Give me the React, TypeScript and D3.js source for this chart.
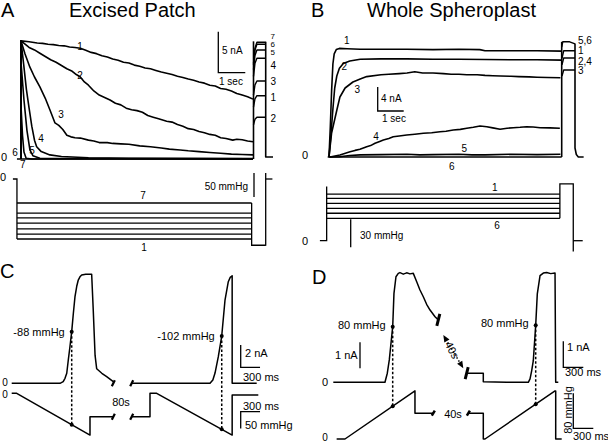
import React from 'react';
import * as d3 from 'd3';

type Pt = [number, number];

// ---------------- Panel A: excised patch (time s, current nA) ----------------
const aTrace1: Pt[] = [[0,0],[0,14.4],[0.3,14.3],[0.6,14.15],[0.8,14.1],[1.0,14.0],[1.2,13.95],[1.4,13.85],[1.6,13.8],[1.8,13.65],[2.0,13.6],[2.2,13.5],[2.4,13.25],[2.6,13.0],[2.8,12.85],[3.0,12.6],[3.2,12.45],[3.4,12.2],[3.6,12.05],[3.8,11.8],[4.0,11.7],[4.2,11.45],[4.4,11.3],[4.6,11.1],[4.8,11.0],[5.0,10.8],[5.2,10.6],[5.4,10.45],[5.6,10.3],[5.8,10.1],[6.0,9.95],[6.2,9.75],[6.4,9.6],[6.6,9.4],[6.8,9.25],[7.0,9.0],[7.2,8.9],[7.4,8.6],[7.6,8.5],[7.8,8.3],[8.0,8.0],[8.2,7.8],[8.4,7.6],[8.6,7.3]];
const aTrace2: Pt[] = [[0,0],[0,14.4],[0.3,13.6],[0.5,13.3],[0.7,12.9],[0.9,12.5],[1.1,12.1],[1.3,11.8],[1.5,11.4],[1.7,11.0],[1.9,10.7],[2.05,10.3],[2.2,10.0],[2.35,9.4],[2.5,9.0],[2.7,8.3],[2.9,7.8],[3.1,7.5],[3.3,7.2],[3.5,6.8],[3.7,6.6],[3.9,6.2],[4.1,6.0],[4.3,5.9],[4.5,5.7],[4.7,5.3],[4.9,5.1],[5.1,4.9],[5.4,4.6],[5.6,4.5],[5.8,4.2],[6.0,4.0],[6.2,3.7],[6.4,3.6],[6.6,3.35],[6.8,3.2],[7.0,3.0],[7.2,2.9],[7.4,2.6],[7.6,2.5],[7.85,2.3],[8.0,2.4],[8.2,2.35],[8.4,2.2],[8.6,2.1]];
const aTrace3: Pt[] = [[0,0],[0,14.4],[0.15,12.8],[0.33,11.2],[0.5,10.0],[0.7,8.8],[0.9,7.4],[1.07,6.0],[1.26,4.4],[1.4,4.1],[1.55,3.6],[1.7,2.9],[1.85,2.7],[2.0,2.6],[2.2,2.55],[2.5,2.3],[2.7,2.2],[2.9,2.0],[3.2,2.0],[3.4,1.9],[3.7,1.85],[4.0,1.8],[4.4,1.6],[4.8,1.5],[5.2,1.35],[5.5,1.2],[5.9,1.1],[6.2,1.0],[6.6,0.9],[7.0,0.8],[7.4,0.7],[7.8,0.6],[8.2,0.55],[8.6,0.5]];
const aTrace4: Pt[] = [[0,0],[0,14.4],[0.1,11.5],[0.2,8.5],[0.3,6.2],[0.4,4.0],[0.5,2.3],[0.58,1.5],[0.75,0.9],[1.07,0.5],[1.5,0.3],[2.5,0.15],[4,0.08],[8.6,0.05]];
const aTrace5: Pt[] = [[0,0],[0,11.8],[0.11,7.2],[0.22,3.5],[0.33,1.1],[0.44,0.4],[0.7,0.1],[8.6,0.02]];
const aTrace6: Pt[] = [[0,0],[0,6.5],[0.055,2.9],[0.11,0.85],[0.19,0.1],[0.4,0],[8.6,0]];
const aTrace7: Pt[] = [[-0.15,0],[8.6,0]];
const aTraceLabels = ['1','2','3','4','5','6','7'];
const aTraceLabelPos: Pt[] = [[2.19,13.66],[2.19,10.24],[1.48,5.37],[0.74,2.5],[0.41,0.98],[-0.22,0.85],[0.07,-0.61]];
const aRecoveryLabels = ['7','6','5','4','3','1','2'];
const aRecoveryLevels = [14.23,13.99,13.29,12.28,9.51,7.72,5.09];
const aRecoveryLabelY = [15.0,14.02,13.05,11.46,9.51,7.44,5.0];
const aPressureLevels = [-50,-71,-81,-92,-104,-115,-125];
const aRecoveryPressure = -138;

// ---------------- Panel B: whole spheroplast (time s, current nA) ----------------
const bTrace1: Pt[] = [[0,0],[0.05,5],[0.1,11],[0.15,15.5],[0.2,17.2],[0.28,17.9],[0.4,18.1],[0.7,18.05],[1.2,17.95],[2,17.95],[3,17.95],[4,17.9],[5,17.95],[5.8,17.9],[6,17.7],[7,17.7],[8,17.7],[8.95,17.65]];
const bTrace2: Pt[] = [[0,0],[0.08,4],[0.15,8],[0.22,11.5],[0.3,13.5],[0.4,14.8],[0.55,15.6],[0.8,16.0],[1.2,16.3],[2,16.35],[3,16.35],[4,16.3],[5,16.3],[6,16.25],[7,16.2],[8,16.2],[8.95,16.15]];
const bTrace3: Pt[] = [[0,0],[0.1,4],[0.3,7.8],[0.42,10],[0.62,11.5],[0.92,12.5],[1.2,13.0],[1.45,13.4],[2,13.7],[2.3,13.8],[2.7,13.9],[3.0,14.0],[3.3,14.2],[3.6,14.0],[4,14.0],[4.4,13.9],[4.7,13.8],[5.0,13.8],[5.3,13.7],[5.7,13.7],[6,13.6],[6.3,13.55],[6.6,13.5],[7.0,13.45],[7.3,13.4],[7.7,13.35],[8,13.3],[8.4,13.25],[8.9,13.2]];
const bTrace4: Pt[] = [[0.04,0],[0.42,0.33],[0.81,0.88],[1.0,1.1],[1.19,1.28],[1.45,1.72],[1.6,1.9],[1.77,2.28],[1.95,2.6],[2.09,2.83],[2.3,3.1],[2.47,3.38],[2.7,3.5],[2.99,3.67],[3.3,3.8],[3.63,3.95],[3.95,4.05],[4.27,4.22],[4.5,4.3],[4.78,4.5],[5.05,4.6],[5.3,4.78],[5.55,4.95],[5.81,5.17],[6.07,5.05],[6.3,4.85],[6.58,4.62],[6.85,4.8],[7.09,4.88],[7.35,4.95],[7.6,5.05],[7.85,5.0],[8.12,4.88],[8.5,4.85],[8.88,4.78]];
const bTrace5: Pt[] = [[0,0],[0.4,0.05],[0.8,0.25],[1.2,0.35],[2,0.4],[3,0.45],[3.5,0.35],[4,0.4],[5,0.45],[5.5,0.35],[6,0.35],[7,0.45],[8,0.4],[8.9,0.45]];
const bTrace6: Pt[] = [[-0.05,0],[8.95,0]];
const bTraceLabels = ['1','2','3','4','5','6'];
const bTraceLabelPos: Pt[] = [[0.68,19.5],[0.59,15.05],[1.09,11.17],[1.81,3.38],[5.2,1.45],[4.72,-1.5]];
const bRecoveryLabels = ['5,6','1','2,4','3'];
const bRecoveryLevels = [19.1,17.7,16.5,14.5];
const bRecoveryLabelY = [19.5,17.7,16.0,14.4];
const bPressureLevels = [50,45.4,40,34.7,29.4,24];
const bRecoveryPressure = 60.8;

// ---------------- Panel C: excised patch ramps (time ms, current nA, pressure mmHg) ----------------
const cCurrent1: Pt[] = [[0,0],[750,0],[800,0.15],[828,0.45],[855,0.9],[879,2.09],[905,3.3],[932,4.63],[958,6.3],[983,7.77],[1010,8.7],[1034,9.26],[1060,9.55],[1087,9.71],[1150,9.78],[1242,9.78],[1267,6.5],[1295,2.5],[1320,1.3],[1400,0.9],[1475,0.6],[1578,0.15]];
const cCurrent2: Pt[] = [[0,0],[1216,0],[1260,0.3],[1294,0.92],[1345,2.39],[1398,4.24],[1449,7.47],[1500,9.11],[1530,9.5],[1560,9.65],[1560,0],[1941,0]];
const cPressure1: Pt[] = [[0,0],[78,0],[1216,-125],[1216,-70],[1578,-70]];
const cPressure2: Pt[] = [[0,-70],[284,-70],[284,0],[388,0],[1560,-125],[1560,-5],[1966,-5]];
const cDotTimes = [932, 1398];
const cDotLabels = ['-88 mmHg', '-102 mmHg'];

// ---------------- Panel D: whole spheroplast ramps (time ms, current nA, pressure mmHg) ----------------
const dCurrent1: Pt[] = [[0,0],[775,0],[810,0.35],[840,0.86],[891,2.14],[910,3.42],[940,4.06],[975,4.19],[1000,4.22],[1050,4.16],[1100,4.21],[1150,4.17],[1200,4.19],[1251,3.87],[1300,3.55],[1350,3.29],[1400,3.0],[1451,2.78],[1526,2.52],[1575,2.40]];
const dCurrent2: Pt[] = [[0,0.35],[249,0.35],[249,0.02],[600,0],[924,0],[950,0.13],[975,0.45],[999,0.83],[1035,2.19],[1059,3.4],[1100,4.1],[1149,4.2],[1200,4.22],[1260,4.18],[1325,4.2],[1335,0],[1374,0]];
const dPressure1: Pt[] = [[50,0],[175,0],[1225,110],[1225,59],[1500,59]];
const dPressure2: Pt[] = [[25,59],[249,59],[249,0],[275,0],[1325,110],[1335,110],[1335,0],[1425,0]];
const dDotTimes = [891, 1035];
const dDotLabels = ['80 mmHg', '80 mmHg'];

type Lin = d3.ScaleLinear<number, number>;
const lineOf = (xs: Lin, ys: Lin) => d3.line<Pt>().x(d => xs(d[0])).y(d => ys(d[1]));

function valueAt(data: Pt[], t: number): number {
  for (let i = 0; i < data.length - 1; i++) {
    const [t0, v0] = data[i];
    const [t1, v1] = data[i + 1];
    if (t1 > t0 && t >= t0 && t <= t1) return v0 + ((t - t0) / (t1 - t0)) * (v1 - v0);
  }
  return data[data.length - 1][1];
}

const FONT = "'Liberation Sans', Arial, Helvetica, sans-serif";

export default function App() {
  // Panel A scales
  const xA = d3.scaleLinear().domain([0, 8.6]).range([21, 253]);
  const yA = d3.scaleLinear().domain([0, 5]).range([159, 118]);
  const xAR = d3.scaleLinear().domain([0, 1]).range([253.5, 265.7]);
  const yAP = d3.scaleLinear().domain([0, -50]).range([179, 203]);
  // Panel B scales
  const xB = d3.scaleLinear().domain([0, 9]).range([329, 563]);
  const yB = d3.scaleLinear().domain([0, 4]).range([157, 133]);
  const xBR = d3.scaleLinear().domain([0, 1]).range([561.7, 575]);
  const yBP = d3.scaleLinear().domain([0, 30]).range([240.7, 212.7]);
  // Panel C scales
  const xC1 = d3.scaleLinear().domain([0, 1578]).range([11.7, 113.3]);
  const xC2 = d3.scaleLinear().domain([0, 1941]).range([131.7, 256.7]);
  const yCI = d3.scaleLinear().domain([0, 2]).range([383.3, 361]);
  const yCP = d3.scaleLinear().domain([0, -50]).range([393.3, 410]);
  // Panel D scales
  const xD1 = d3.scaleLinear().domain([0, 1575]).range([333.3, 438.3]);
  const xD2 = d3.scaleLinear().domain([0, 1374]).range([466.7, 558.3]);
  const yDI = d3.scaleLinear().domain([0, 1]).range([382.3, 356.3]);
  const yDP = d3.scaleLinear().domain([0, 80]).range([439, 404]);

  const stroke = '#000';
  const trace = { fill: 'none', stroke, strokeWidth: 1.6, strokeLinejoin: 'round' as const };
  const thin = { fill: 'none', stroke, strokeWidth: 1.3 };
  const small = { fontFamily: FONT, fontSize: 10, fill: '#000' };
  const tiny = { fontFamily: FONT, fontSize: 8, fill: '#000' };
  const mid = { fontFamily: FONT, fontSize: 11, fill: '#000' };
  const big = { fontFamily: FONT, fontSize: 20, fill: '#000' };

  const lA = lineOf(xA, yA);
  const lAR = lineOf(xAR, yA);
  const lB = lineOf(xB, yB);
  const lBR = lineOf(xBR, yB);

  const ms300C = xC2(300) - xC2(0);
  const nA2C = yCI(0) - yCI(2);
  const mm50C = yCP(-50) - yCP(0);
  const ms300D = xD2(300) - xD2(0);
  const nA1D = yDI(0) - yDI(1);
  const mm80D = yDP(0) - yDP(80);

  const brk = (x: number, y: number, h = 3, w = 2.2) => (
    <path d={`M${x - 1.5},${y + h}L${x + 1.5},${y - h}`} stroke={stroke} strokeWidth={w} fill="none" />
  );

  // Arrow in D
  const ax0 = 443.3, ay0 = 335, ax1 = 463.3, ay1 = 368.3;
  const ang = Math.atan2(ay1 - ay0, ax1 - ax0);
  const head = (x: number, y: number, a: number) => {
    const L = 7, W = 3;
    const bx = x - L * Math.cos(a), by = y - L * Math.sin(a);
    const px = -Math.sin(a) * W, py = Math.cos(a) * W;
    return <path d={`M${x},${y}L${bx + px},${by + py}L${bx - px},${by - py}Z`} fill={stroke} />;
  };

  return (
    <svg width={608} height={442} style={{ position: 'absolute', left: 0, top: 0, background: '#fff' }}>
      <rect x={0} y={0} width={608} height={442} fill="#fff" />
      {/* Titles */}
      <text x={1} y={17} {...big}>A</text>
      <text x={69} y={17} {...big}>Excised Patch</text>
      <text x={311} y={17} {...big}>B</text>
      <text x={367} y={17} {...big}>Whole Spheroplast</text>
      <text x={0} y={278} {...big}>C</text>
      <text x={312} y={284} {...big}>D</text>

      {/* ---------- Panel A currents ---------- */}
      {[aTrace1, aTrace2, aTrace3, aTrace4, aTrace5, aTrace6, aTrace7].map((d, i) => (
        <path key={'a' + i} d={lA(d) || ''} {...trace} />
      ))}
      {aTraceLabels.map((s, i) => (
        <text key={'al' + i} x={xA(aTraceLabelPos[i][0])} y={yA(aTraceLabelPos[i][1])} dy="0.35em" textAnchor="middle" {...small}>{s}</text>
      ))}
      <text x={4} y={yA(0) - 2} dy="0.35em" textAnchor="middle" {...mid}>0</text>
      {/* recovery pulse */}
      <path d={`M${xAR(0)},${yA(0)}V${yA(14.35)}`} {...trace} />
      {aRecoveryLevels.map((L, i) => (
        <path key={'ar' + i} d={lAR([[0, L * 0.82], [0.12, L * 0.95], [0.28, L], [1, L]]) || ''} {...trace} strokeWidth={1.4} />
      ))}
      <path d={lAR([[1, 14.3], [1, 0.25], [1.6, 0.25]]) || ''} {...trace} />
      {aRecoveryLabels.map((s, i) => (
        <text key={'arl' + i} x={270.5} y={yA(aRecoveryLabelY[i])} dy="0.35em" {...(i < 3 ? tiny : small)}>{s}</text>
      ))}
      {/* scale bar A */}
      <path d={`M218.3,31.7V${31.7 + (yA(0) - yA(5))}H${218.3 + (xA(1) - xA(0))}`} {...thin} />
      <text x={222} y={54} {...small}>5 nA</text>
      <text x={219} y={85} {...small}>1 sec</text>

      {/* ---------- Panel A pressure ---------- */}
      {aPressureLevels.map((p, i) => (
        <path key={'ap' + i} d={`M${xA(-0.15)},${yAP(p)}H${xA(8.55)}`} {...thin} />
      ))}
      <path d={`M${xA(-0.3)},${yAP(0)}H${xA(-0.15)}V${yAP(-125)}`} {...thin} />
      <path d={`M${xA(8.55)},${yAP(-50)}V${yAP(aRecoveryPressure)}H${xAR(1)}`} {...thin} />
      <path d={`M${xAR(1)},${yAP(12.5)}V${yAP(aRecoveryPressure - 1)}`} {...thin} />
      <path d={`M${xAR(1)},${yAP(0)}H${xAR(1.55)}`} {...thin} />
      <text x={xA(4.52)} y={yAP(-35.4)} dy="0.35em" textAnchor="middle" {...small}>7</text>
      <text x={xA(4.56)} y={yAP(-141.7)} dy="0.35em" textAnchor="middle" {...small}>1</text>
      <text x={3} y={yAP(0) - 2} dy="0.35em" textAnchor="middle" {...mid}>0</text>
      <path d={`M254,${yAP(12.5)}V${yAP(-37.5)}`} {...thin} />
      <text x={248} y={189.5} textAnchor="end" {...small}>50 mmHg</text>

      {/* ---------- Panel B currents ---------- */}
      {[bTrace1, bTrace2, bTrace3, bTrace4, bTrace5, bTrace6].map((d, i) => (
        <path key={'b' + i} d={lB(d) || ''} {...trace} />
      ))}
      {bTraceLabels.map((s, i) => (
        <text key={'bl' + i} x={xB(bTraceLabelPos[i][0])} y={yB(bTraceLabelPos[i][1])} dy="0.35em" textAnchor="middle" {...small}>{s}</text>
      ))}
      <text x={305} y={yB(0) - 1.5} dy="0.35em" textAnchor="middle" {...mid}>0</text>
      <path d={`M${xBR(0)},${yB(0)}V${yB(19.2)}`} {...trace} />
      {bRecoveryLevels.map((L, i) => (
        <path key={'br' + i} d={lBR(i === 0 ? [[0, 18.3], [0.08, 19.2], [0.6, 19.2], [1, 18.85]] : [[0.02, L * 0.93], [0.15, L], [1, L]]) || ''} {...trace} strokeWidth={1.4} />
      ))}
      <path d={lBR([[1, 18.9], [1, 1.5], [1.1, 0.4], [1.25, 0], [1.65, 0]]) || ''} {...trace} />
      {bRecoveryLabels.map((s, i) => (
        <text key={'brl' + i} x={578} y={yB(bRecoveryLabelY[i])} dy="0.35em" {...small}>{s}</text>
      ))}
      <path d={`M377.7,87V${87 + (yB(0) - yB(4))}H${377.7 + (xB(1) - xB(0))}`} {...thin} />
      <text x={381} y={101.5} {...small}>4 nA</text>
      <text x={382} y={122} {...small}>1 sec</text>

      {/* ---------- Panel B pressure ---------- */}
      {bPressureLevels.map((p, i) => (
        <path key={'bp' + i} d={`M${xB(-0.09)},${yBP(p)}H${xB(8.88)}`} {...thin} />
      ))}
      <path d={`M${xB(-0.35)},${yBP(0)}H${xB(-0.09)}V${yBP(58)}`} {...thin} />
      <path d={`M${xB(8.88)},${yBP(24)}V${yBP(bRecoveryPressure)}H${xBR(0.87)}V${yBP(-11.5)}`} {...thin} />
      <path d={`M${xBR(0.87)},${yBP(0)}H${xBR(1.58)}`} {...thin} />
      <text x={xB(6.38)} y={yBP(57.5)} dy="0.35em" textAnchor="middle" {...small}>1</text>
      <text x={xB(6.46)} y={yBP(16.8)} dy="0.35em" textAnchor="middle" {...small}>6</text>
      <text x={305} y={yBP(0)} dy="0.35em" textAnchor="middle" {...mid}>0</text>
      <path d={`M350.7,219.3V${219.3 + (yBP(0) - yBP(30))}`} {...thin} />
      <text x={360} y={238.5} {...small}>30 mmHg</text>

      {/* ---------- Panel C ---------- */}
      <path d={lineOf(xC1, yCI)(cCurrent1) || ''} {...trace} strokeWidth={1.5} />
      <path d={lineOf(xC2, yCI)(cCurrent2) || ''} {...trace} strokeWidth={1.5} />
      <path d={lineOf(xC1, yCP)(cPressure1) || ''} {...trace} strokeWidth={1.5} />
      <path d={lineOf(xC2, yCP)(cPressure2) || ''} {...trace} strokeWidth={1.5} />
      {brk(xC1(1578), yCI(0))}
      {brk(xC2(0), yCI(0))}
      {brk(xC1(1578), yCP(-70))}
      {brk(xC2(0), yCP(-70))}
      {cDotTimes.map((t, i) => {
        const xs = i === 0 ? xC1 : xC2;
        const cur = i === 0 ? cCurrent1 : cCurrent2;
        const pr = i === 0 ? cPressure1 : cPressure2;
        const x = xs(t), y1 = yCI(valueAt(cur, t)), y2 = yCP(valueAt(pr, t));
        return (
          <g key={'cd' + i}>
            <path d={`M${x},${y1}V${y2}`} stroke={stroke} strokeWidth={1.5} strokeDasharray="2.5,2" fill="none" />
            <circle cx={x} cy={y1} r={2} fill={stroke} />
            <circle cx={x} cy={y2} r={2} fill={stroke} />
            <text x={x - 7} y={y1} dy="0.35em" textAnchor="end" {...mid}>{cDotLabels[i]}</text>
          </g>
        );
      })}
      <text x={5} y={yCI(0) - 1} dy="0.35em" textAnchor="middle" {...small}>0</text>
      <text x={5} y={yCP(0) + 1} dy="0.35em" textAnchor="middle" {...small}>0</text>
      <text x={121} y={401.7} dy="0.35em" textAnchor="middle" {...mid}>80s</text>
      <path d={`M240.7,${367.3 - nA2C}V367.3H${240.7 + ms300C}`} {...thin} />
      <text x={245} y={357} {...mid}>2 nA</text>
      <text x={243} y={380.5} {...mid}>300 ms</text>
      <path d={`M${240.7 + ms300C},411.7H240.7V${411.7 + mm50C}`} {...thin} />
      <text x={243} y={410} {...mid}>300 ms</text>
      <text x={245} y={428.5} {...mid}>50 mmHg</text>

      {/* ---------- Panel D ---------- */}
      <path d={lineOf(xD1, yDI)(dCurrent1) || ''} {...trace} strokeWidth={1.5} />
      <path d={lineOf(xD2, yDI)(dCurrent2) || ''} {...trace} strokeWidth={1.5} />
      <path d={lineOf(xD1, yDP)(dPressure1) || ''} {...trace} strokeWidth={1.5} />
      <path d={lineOf(xD2, yDP)(dPressure2) || ''} {...trace} strokeWidth={1.5} />
      {brk(xD1(1575), yDI(2.4), 6, 3)}
      {brk(xD2(0), yDI(0.35), 6, 3)}
      {brk(xD1(1500), yDP(59), 2.5, 2.5)}
      {brk(xD2(25), yDP(59), 2.5, 2.5)}
      {dDotTimes.map((t, i) => {
        const xs = i === 0 ? xD1 : xD2;
        const cur = i === 0 ? dCurrent1 : dCurrent2;
        const pr = i === 0 ? dPressure1 : dPressure2;
        const x = xs(t), y1 = yDI(valueAt(cur, t)), y2 = yDP(valueAt(pr, t));
        return (
          <g key={'dd' + i}>
            <path d={`M${x},${y1}V${y2}`} stroke={stroke} strokeWidth={1.5} strokeDasharray="2.5,2" fill="none" />
            <circle cx={x} cy={y1} r={2} fill={stroke} />
            <circle cx={x} cy={y2} r={2} fill={stroke} />
            <text x={x - 7} y={y1 - 2} dy="0.35em" textAnchor="end" {...mid}>{dDotLabels[i]}</text>
          </g>
        );
      })}
      <path d={`M${ax0 + 5 * Math.cos(ang)},${ay0 + 5 * Math.sin(ang)}L${ax1 - 5 * Math.cos(ang)},${ay1 - 5 * Math.sin(ang)}`} stroke={stroke} strokeWidth={1.5} strokeDasharray="1.5,2" fill="none" />
      {head(ax0, ay0, ang + Math.PI)}
      {head(ax1, ay1, ang)}
      <text x={0} y={0} transform={`translate(452,350) rotate(62)`} dy="0.35em" textAnchor="middle" {...mid}>40s</text>
      <text x={325} y={yDI(0)} dy="0.35em" textAnchor="middle" {...mid}>0</text>
      <text x={325} y={yDP(0) - 2} dy="0.35em" textAnchor="middle" {...small}>0</text>
      <text x={453} y={414} dy="0.35em" textAnchor="middle" {...mid}>40s</text>
      <path d={`M360,${368.3 - nA1D}V368.3`} {...thin} />
      <text x={335} y={359} {...mid}>1 nA</text>
      <path d={`M563.3,${367.3 - nA1D}V367.3H${563.3 + ms300D}`} {...thin} />
      <text x={567} y={351} {...mid}>1 nA</text>
      <text x={565} y={375.5} {...mid}>300 ms</text>
      <path d={`M573.3,${428.3 - mm80D}V428.3H${573.3 + ms300D}`} {...thin} />
      <text x={0} y={0} transform={`translate(568.5,410) rotate(-90)`} dy="0.35em" textAnchor="middle" {...mid}>80 mmHg</text>
      <text x={573} y={440} {...mid}>300 ms</text>
    </svg>
  );
}
